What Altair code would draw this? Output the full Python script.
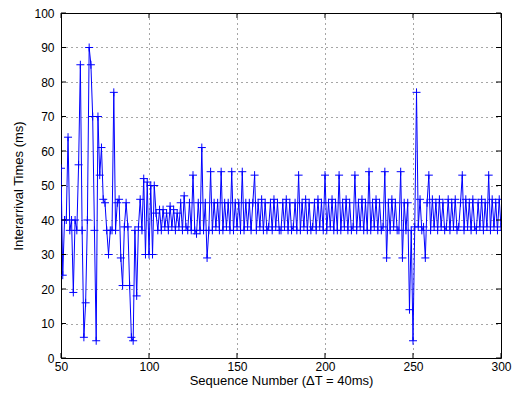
import altair as alt
import pandas as pd

# interarrival times (ms), one value per sequence number 50..300
times_050 = [55, 24, 40, 40, 64, 37, 40, 19, 40, 37,
             56, 85, 37, 6, 16, 40, 90, 85, 70, 37,
             5, 70, 53, 61, 46, 45, 37, 30, 37, 37,
             77, 37, 45, 46, 29, 21, 38, 45, 38, 21,
             6, 5, 37, 18, 38, 46, 37, 52, 30, 51]
times_100 = [30, 50, 30, 50, 42, 37, 43, 37, 43, 38,
             42, 37, 44, 38, 43, 37, 42, 38, 45, 37,
             47, 38, 37, 45, 37, 53, 37, 36, 45, 37,
             61, 37, 45, 29, 37, 54, 37, 45, 38, 45,
             37, 54, 37, 45, 38, 45, 37, 54, 37, 45]
times_150 = [38, 45, 37, 54, 37, 45, 38, 45, 37, 45,
             53, 37, 45, 38, 46, 37, 45, 37, 38, 45,
             37, 46, 38, 45, 37, 37, 45, 38, 46, 37,
             45, 37, 38, 45, 37, 53, 37, 45, 38, 46,
             37, 45, 37, 38, 45, 37, 46, 38, 45, 37]
times_200 = [53, 37, 45, 38, 46, 37, 45, 37, 53, 37,
             45, 38, 46, 37, 45, 37, 38, 53, 37, 45,
             38, 46, 37, 45, 37, 54, 37, 45, 38, 46,
             37, 45, 37, 38, 54, 29, 45, 37, 46, 38,
             45, 37, 37, 54, 29, 45, 37, 45, 14, 37]
times_250 = [5, 38, 77, 38, 46, 37, 38, 29, 45, 53,
             37, 46, 38, 45, 37, 46, 38, 45, 37, 38,
             46, 37, 45, 38, 46, 37, 38, 45, 53, 37,
             46, 38, 45, 37, 46, 38, 37, 45, 38, 46,
             37, 45, 38, 53, 37, 46, 38, 45, 37, 46,
             38]

times = times_050 + times_100 + times_150 + times_200 + times_250
seq = list(range(50, 50 + len(times)))

x_ticks = [50, 100, 150, 200, 250, 300]
y_ticks = [0, 10, 20, 30, 40, 50, 60, 70, 80, 90, 100]

df = pd.DataFrame({"seq": seq, "t": times})
xt = pd.DataFrame({"v": x_ticks})
yt = pd.DataFrame({"v": y_ticks})

W, H = 440, 345
FONT = "Liberation Sans"
BLUE = "#0000ff"

xscale = alt.Scale(domain=[50, 300], nice=False, zero=False)
yscale = alt.Scale(domain=[0, 100], nice=False)

xaxis = alt.Axis(values=x_ticks, title="Sequence Number (ΔT = 40ms)", grid=True,
                 gridDash=[1, 4], gridColor="#000000", gridOpacity=0.7,
                 ticks=False, domain=False, labelPadding=3, labelFontSize=12,
                 titleFontSize=13, titleFontWeight="normal", titlePadding=2,
                 labelFont=FONT, titleFont=FONT, labelColor="#000", titleColor="#000",
                 labelOverlap=False, labelFlush=False)
yaxis = alt.Axis(values=y_ticks, title="Interarrival Times (ms)", grid=True,
                 gridDash=[1, 4], gridColor="#000000", gridOpacity=0.7,
                 ticks=False, domain=False, labelPadding=7, labelFontSize=12,
                 titleFontSize=13, titleFontWeight="normal", titlePadding=8,
                 labelFont=FONT, titleFont=FONT, labelColor="#000", titleColor="#000",
                 labelOverlap=False, labelFlush=False)

X_seq = alt.X("seq:Q", scale=xscale, axis=xaxis)
Y_t = alt.Y("t:Q", scale=yscale, axis=yaxis)
X_v = alt.X("v:Q", scale=xscale, axis=xaxis)
Y_v = alt.Y("v:Q", scale=yscale, axis=yaxis)

base = alt.Chart(df)
line = base.mark_line(color=BLUE, strokeWidth=1, clip=True).encode(x=X_seq, y=Y_t)
pts = base.mark_point(shape="M-1,0L1,0M0,-1L0,1", size=64, filled=False,
                      color=BLUE, strokeWidth=1, opacity=1, clip=True).encode(x=X_seq, y=Y_t)

tick_len = 5
xt_bot = alt.Chart(xt).mark_rule(color="black", strokeWidth=1).encode(
    x=X_v, y=alt.value(H), y2=alt.value(H - tick_len))
xt_top = alt.Chart(xt).mark_rule(color="black", strokeWidth=1).encode(
    x=X_v, y=alt.value(0), y2=alt.value(tick_len))
yt_left = alt.Chart(yt).mark_rule(color="black", strokeWidth=1).encode(
    y=Y_v, x=alt.value(0), x2=alt.value(tick_len))
yt_right = alt.Chart(yt).mark_rule(color="black", strokeWidth=1).encode(
    y=Y_v, x=alt.value(W), x2=alt.value(W - tick_len))

chart = alt.layer(line, pts, xt_bot, xt_top, yt_left, yt_right).properties(
    width=W, height=H,
    autosize=alt.AutoSizeParams(type="none"),
    padding={"left": 53, "top": 5, "right": 11, "bottom": 32},
    background="white",
).configure_view(stroke="black", strokeWidth=1)

chart.save("out.html", embed_options={"renderer": "svg", "actions": False})
